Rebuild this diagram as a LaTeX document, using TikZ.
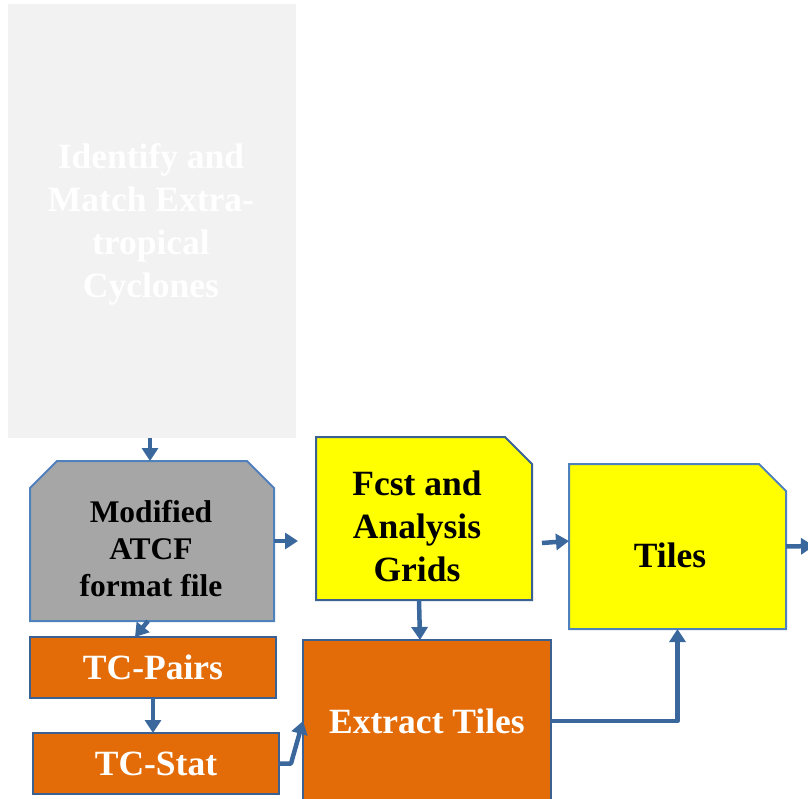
\documentclass[tikz,border=0pt]{standalone}
\usepackage{fontspec}
\setmainfont{Liberation Serif}
\usetikzlibrary{arrows.meta}
\definecolor{arrowblue}{RGB}{58,103,156}
\definecolor{lightborder}{RGB}{79,129,189}
\definecolor{darkborder}{RGB}{59,96,146}
\definecolor{greyfill}{RGB}{242,242,242}
\definecolor{atcffill}{RGB}{166,166,166}
\definecolor{orangefill}{RGB}{227,108,9}
\definecolor{gridfill}{RGB}{255,255,0}
\begin{document}
\begin{tikzpicture}[x=1pt,y=-1pt,
  box/.style={inner sep=0pt, outer sep=0pt, align=center, font=\fontsize{35.5}{43}\selectfont\bfseries},
  txt/.style={box},
  frame/.style={box, rectangle, draw=none},
  greybox/.style={box, rectangle, fill=greyfill},
  atcfshape/.style={fill=atcffill, draw=lightborder, line width=2pt, line join=miter},
  gridshape/.style={fill=gridfill, line width=2pt, line join=miter},
  toolbox/.style={box, rectangle, fill=orangefill, draw=darkborder, line width=2pt, text=white},
  arr/.style={draw=arrowblue, line width=4.5pt, -{Triangle[length=13pt,width=16pt]}, line join=round}
]
\useasboundingbox (0,0) rectangle (808,799);

% Identify box
\node[greybox, minimum width=288pt, minimum height=434pt] (ident) at (152,221) {};
\node[txt, text=white] (identtext) at (151,224) {Identify and\\Match Extra-\\tropical\\Cyclones};

% Modified ATCF (top corners cut)
\path[atcfshape] (30,621) -- (30,488) -- (57,461) -- (247,461) -- (274,488) -- (274,621) -- cycle;
\node[frame, minimum width=244pt, minimum height=160pt] (atcf) at (152,541) {};
\node[txt, text=black, font=\fontsize{31.5}{37}\selectfont\bfseries] (atcftext) at (151,549)
  {Modified\\ATCF\\format file};

% Fcst and Analysis Grids (top right corner cut)
\path[gridshape, draw=darkborder] (316,600) -- (316,437) -- (505,437) -- (532,464) -- (532,600) -- cycle;
\node[frame, minimum width=216pt, minimum height=163pt] (fcst) at (424,518.5) {};
\node[txt, text=black] (fcsttext) at (417,526) {Fcst and\\Analysis\\Grids};

% Tiles (top right corner cut)
\path[gridshape, draw=lightborder] (569,629) -- (569,464) -- (759,464) -- (786,491) -- (786,629) -- cycle;
\node[frame, minimum width=217pt, minimum height=165pt] (tiles) at (677.5,546.5) {};
\node[txt, text=black] (tilestext) at (670,555) {Tiles};

\node[toolbox, minimum width=246pt, minimum height=61pt] (pairs) at (153,667.5) {TC-Pairs};
\node[toolbox, minimum width=246pt, minimum height=61pt] (stat) at (156,763.5) {TC-Stat};
\node[toolbox, minimum width=248pt, minimum height=162pt] (ext) at (427,721) {Extract Tiles};

\coordinate (atcfout) at (298,541);
\coordinate (fcstout) at (542,543);
\coordinate (tilesout) at (814,546);

\draw[arr] ([xshift=-2pt]ident.south) -- ([xshift=-2pt]atcf.north);
\draw[arr] (atcf.east) -- (atcfout);
\draw[arr] (fcstout) -- (tiles.west |- 0,541);
\draw[arr] (tiles.east) -- (tilesout);
\draw[arr] ([xshift=-5pt]fcst.south) -- ([xshift=-7pt]ext.north);
\draw[arr] ([xshift=-4pt]atcf.south) -- ([xshift=-18pt]pairs.north);
\draw[arr] (pairs.south) -- (stat.north -| pairs.south);
\draw[arr] (stat.east) -- ++(12,0) -- (ext.west);
\draw[arr] (ext.east) -| (tiles.south);
\end{tikzpicture}
\end{document}
